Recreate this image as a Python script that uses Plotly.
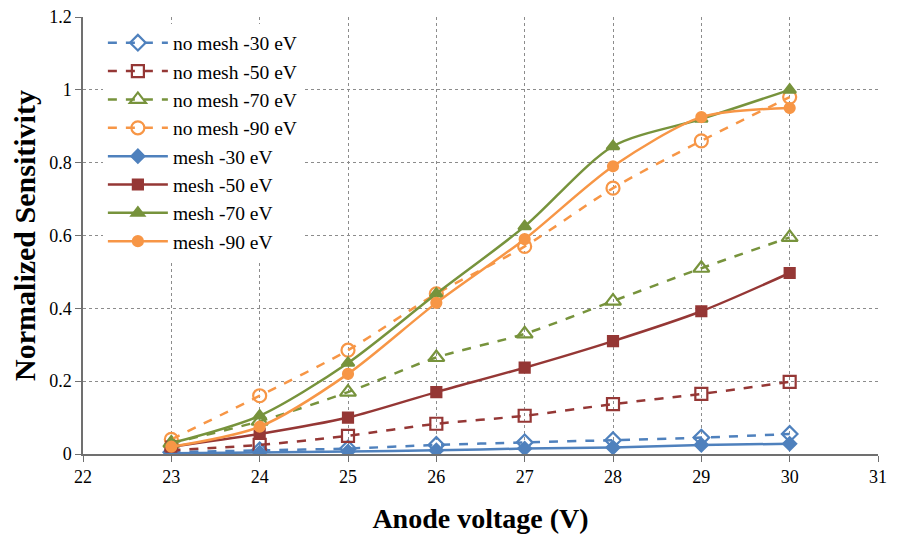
import plotly.graph_objects as go

x = [23, 24, 25, 26, 27, 28, 29, 30]

nomesh_30 = [0.005, 0.010, 0.015, 0.025, 0.032, 0.038, 0.045, 0.055]
nomesh_50 = [0.010, 0.025, 0.050, 0.083, 0.105, 0.137, 0.165, 0.198]
nomesh_70 = [0.030, 0.090, 0.170, 0.265, 0.330, 0.420, 0.510, 0.595]
nomesh_90 = [0.040, 0.160, 0.285, 0.440, 0.570, 0.730, 0.860, 0.980]
mesh_30 = [0.002, 0.004, 0.007, 0.010, 0.015, 0.018, 0.025, 0.028]
mesh_50 = [0.020, 0.055, 0.100, 0.170, 0.237, 0.310, 0.392, 0.497]
mesh_70 = [0.030, 0.105, 0.250, 0.440, 0.625, 0.845, 0.920, 1.000]
mesh_90 = [0.020, 0.075, 0.220, 0.415, 0.590, 0.790, 0.925, 0.950]

blue = "#4F81BD"
red = "#953735"
green = "#77933C"
orange = "#F79646"

series = [
    ("no mesh -30 eV", nomesh_30, blue, "diamond-open", "dash", 12),
    ("no mesh -50 eV", nomesh_50, red, "square-open", "dash", 12),
    ("no mesh -70 eV", nomesh_70, green, "triangle-up-open", "dash", 14),
    ("no mesh -90 eV", nomesh_90, orange, "circle-open", "dash", 13),
    ("mesh -30 eV", mesh_30, blue, "diamond", "solid", 10),
    ("mesh -50 eV", mesh_50, red, "square", "solid", 10),
    ("mesh -70 eV", mesh_70, green, "triangle-up", "solid", 11),
    ("mesh -90 eV", mesh_90, orange, "circle", "solid", 10),
]

fig = go.Figure()
for name, ys, col, sym, dash, sz in series:
    fig.add_trace(go.Scatter(
        x=x, y=ys, name=name, mode="lines+markers",
        line=dict(color=col, width=2.5, dash=dash, shape="spline", smoothing=0.8),
        marker=dict(symbol=sym, size=sz, color=col,
                    line=dict(color=col, width=2.2)),
    ))

font = "'Liberation Serif', 'Times New Roman', serif"
fig.update_layout(
    width=912, height=545,
    margin=dict(l=75, r=42, t=9, b=99),
    paper_bgcolor="white", plot_bgcolor="white",
    font=dict(family=font, size=16, color="black"),
    showlegend=True,
    legend=dict(x=0.025, y=0.985, xanchor="left", yanchor="top",
                bgcolor="white", font=dict(family=font, size=19.5),
                tracegroupgap=6, itemwidth=60),
    xaxis=dict(range=[22, 31], dtick=1, tick0=22, automargin=False,
               showgrid=True, gridcolor="#8c8c8c", griddash="dot", gridwidth=1,
               showline=True, linecolor="#707070", linewidth=1.5,
               ticks="outside", ticklen=6, tickcolor="#707070",
               ticklabeloverflow="allow",
               zeroline=False, tickfont=dict(family=font, size=18),
               title=dict(text="<b>Anode voltage (V)</b>", font=dict(family=font, size=28),
                          standoff=22)),
    yaxis=dict(range=[0, 1.2], dtick=0.2, automargin=False,
               showgrid=True, gridcolor="#8c8c8c", griddash="dot", gridwidth=1,
               showline=True, linecolor="#707070", linewidth=1.5,
               ticks="outside", ticklen=6, tickcolor="#707070",
               ticklabeloverflow="allow",
               zeroline=False, tickfont=dict(family=font, size=18),
               title=dict(text="<b>Normalized Sensitivity</b>", font=dict(family=font, size=30))),
)

fig.write_html("out.html")
